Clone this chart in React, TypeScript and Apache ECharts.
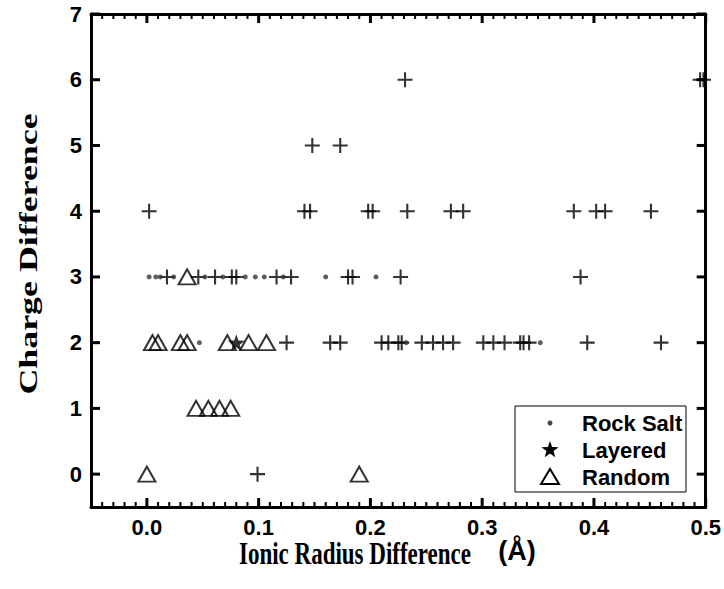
import React, { useEffect, useRef } from "react";
import * as echarts from "echarts";

// ---- data ----
// "+" markers (unlabelled in the legend)
const crossX = [
  0.099,
  0.125, 0.164, 0.173, 0.21, 0.216, 0.225, 0.228, 0.246, 0.256, 0.265, 0.274, 0.301, 0.31, 0.32, 0.334, 0.337, 0.342, 0.394, 0.46,
  0.018, 0.046, 0.061, 0.076, 0.08, 0.116, 0.129, 0.18, 0.184, 0.227, 0.388,
  0.002, 0.141, 0.146, 0.198, 0.202, 0.233, 0.272, 0.283, 0.382, 0.402, 0.41, 0.451,
  0.148, 0.173,
  0.231, 0.495, 0.498,
];
const crossY = [
  0,
  2, 2, 2, 2, 2, 2, 2, 2, 2, 2, 2, 2, 2, 2, 2, 2, 2, 2, 2,
  3, 3, 3, 3, 3, 3, 3, 3, 3, 3, 3,
  4, 4, 4, 4, 4, 4, 4, 4, 4, 4, 4, 4,
  5, 5,
  6, 6, 6,
];
// Rock Salt
const rockSaltX = [0.002, 0.008, 0.012, 0.024, 0.052, 0.068, 0.088, 0.097, 0.105, 0.122, 0.16, 0.205, 0.047, 0.232, 0.352];
const rockSaltY = [3, 3, 3, 3, 3, 3, 3, 3, 3, 3, 3, 3, 2, 2, 2];
// Layered
const layeredX = [0.08];
const layeredY = [2];
// Random
const randomX = [0.0, 0.19, 0.044, 0.055, 0.065, 0.075, 0.005, 0.01, 0.03, 0.036, 0.072, 0.091, 0.107, 0.036];
const randomY = [0, 0, 1, 1, 1, 1, 2, 2, 2, 2, 2, 2, 2, 3];

// ---- axis ticks ----
const X_MIN = -0.05;
const X_MAX = 0.5;
const Y_MIN = -0.5;
const Y_MAX = 7;
const xTickValues = [0, 0.1, 0.2, 0.3, 0.4, 0.5];
const yTickValues = [0, 1, 2, 3, 4, 5, 6, 7];
const xMinorTickValues: number[] = [];
for (let i = -4; i < 50; i++) if (i % 10 !== 0) xMinorTickValues.push(i / 100);

const legendNames = ["Rock Salt", "Layered", "Random"];

const PLUS = "path://M8.6,0H11.4V8.6H20V11.4H11.4V20H8.6V11.4H0V8.6H8.6Z";
const STAR =
  "path://M10,0L12.35,6.76L19.51,6.91L13.8,11.24L15.88,18.09L10,14L4.12,18.09L6.2,11.24L0.49,6.91L7.65,6.76Z";

const zip = (xs: number[], ys: number[]) => xs.map((x, i) => [x, ys[i]]);

export default function App() {
  const ref = useRef<HTMLDivElement>(null);
  useEffect(() => {
    if (!ref.current) return;
    const chart = echarts.init(ref.current, null, { renderer: "svg" });
    const sans = '"Liberation Sans", Arial, sans-serif';
    const serif = '"Liberation Serif", "Times New Roman", serif';
    const line = { show: true, onZero: false, lineStyle: { color: "#000", width: 3 } };
    const baseX = { type: "value" as const, min: X_MIN, max: X_MAX, splitLine: { show: false }, axisTick: { show: false } };
    const baseY = { type: "value" as const, min: Y_MIN, max: Y_MAX, splitLine: { show: false }, axisTick: { show: false } };
    const tickLabel = {
      color: "#000",
      fontFamily: sans,
      fontWeight: "bold" as const,
      fontSize: 22,
      margin: 9,
    };
    chart.setOption({
      animation: false,
      backgroundColor: "#fff",
      grid: { left: 91, right: 16, top: 14, bottom: 82, containLabel: false },
      xAxis: [
        {
          ...baseX,
          position: "bottom",
          axisLine: line,
          axisLabel: { ...tickLabel, customValues: xTickValues, formatter: (v: number) => v.toFixed(1) },
        },
        { ...baseX, position: "top", axisLine: line, axisLabel: { show: false } },
      ],
      yAxis: [
        {
          ...baseY,
          position: "left",
          axisLine: line,
          axisLabel: { ...tickLabel, customValues: yTickValues, formatter: (v: number) => String(v) },
        },
        { ...baseY, position: "right", axisLine: line, axisLabel: { show: false } },
      ],
      series: [
        {
          name: "Other",
          type: "scatter",
          data: zip(crossX, crossY),
          symbol: PLUS,
          symbolSize: 15,
          itemStyle: { color: "#000" },
          z: 2,
        },
        {
          name: legendNames[0],
          type: "scatter",
          data: zip(rockSaltX, rockSaltY),
          symbol: "circle",
          symbolSize: 5,
          itemStyle: { color: "#333" },
          z: 3,
        },
        {
          name: legendNames[2],
          type: "scatter",
          data: zip(randomX, randomY),
          symbol: "triangle",
          symbolSize: [17, 15],
          itemStyle: { color: "rgba(0,0,0,0)", borderColor: "#000", borderWidth: 2 },
          z: 4,
        },
        {
          name: legendNames[1],
          type: "scatter",
          data: zip(layeredX, layeredY),
          symbol: STAR,
          symbolSize: 17,
          itemStyle: { color: "#000" },
          z: 5,
        },
      ],
    });

    // tick marks placed through the chart's own scales
    const px = (v: number) => chart.convertToPixel({ xAxisIndex: 0 }, v) as number;
    const py = (v: number) => chart.convertToPixel({ yAxisIndex: 0 }, v) as number;
    const left = px(X_MIN);
    const right = px(X_MAX);
    const top = py(Y_MAX);
    const bottom = py(Y_MIN);
    const tick = (x1: number, y1: number, x2: number, y2: number, w: number) => ({
      type: "line",
      silent: true,
      z: 50,
      shape: { x1, y1, x2, y2 },
      style: { stroke: "#000", lineWidth: w },
    });
    const ticks: any[] = [];
    xTickValues.forEach((v) => {
      const x = px(v);
      ticks.push(tick(x, bottom, x, bottom - 9, 3));
      ticks.push(tick(x, top, x, top + 9, 3));
    });
    xMinorTickValues.forEach((v) => {
      const x = px(v);
      ticks.push(tick(x, bottom, x, bottom - 5, 2));
      ticks.push(tick(x, top, x, top + 5, 2));
    });
    yTickValues.forEach((v) => {
      const y = py(v);
      ticks.push(tick(left, y, left + 9, y, 3));
      ticks.push(tick(right, y, right - 9, y, 3));
    });

    chart.setOption({
      graphic: [
        ...ticks,
        {
          type: "text",
          x: 28,
          y: 254,
          rotation: Math.PI / 2,
          scaleX: 1.38,
          style: {
            text: "Charge Difference",
            font: `bold 26px ${serif}`,
            align: "center",
            verticalAlign: "middle",
            fill: "#000",
          },
        },
        {
          type: "text",
          x: 355,
          y: 553,
          scaleY: 1.4,
          style: {
            text: "Ionic Radius Difference",
            font: `bold 23px ${serif}`,
            align: "center",
            verticalAlign: "middle",
            fill: "#000",
          },
        },
        {
          type: "text",
          x: 517,
          y: 551,
          style: {
            text: "(Å)",
            font: `bold 27px ${sans}`,
            align: "center",
            verticalAlign: "middle",
            fill: "#000",
          },
        },
        {
          type: "rect",
          shape: { x: 515, y: 406, width: 171, height: 86 },
          style: { fill: "#fff", stroke: "#000", lineWidth: 1 },
          z: 100,
        },
        {
          type: "circle",
          shape: { cx: 550, cy: 423, r: 2.5 },
          style: { fill: "#444" },
          z: 101,
        },
        {
          type: "polygon",
          shape: {
            points: [
              [550, 441], [552.1, 447], [558.6, 447.2], [553.5, 451.1], [555.3, 457.3],
              [550, 453.6], [544.7, 457.3], [546.5, 451.1], [541.4, 447.2], [547.9, 447],
            ],
          },
          style: { fill: "#000" },
          z: 101,
        },
        {
          type: "polygon",
          shape: { points: [[541, 484], [559, 484], [550, 469]] },
          style: { fill: "none", stroke: "#000", lineWidth: 2 },
          z: 101,
        },
        ...legendNames.map((name, i) => ({
          type: "text",
          x: 582,
          y: 423 + i * 27,
          z: 101,
          style: {
            text: name,
            font: `bold 22px ${sans}`,
            align: "left",
            verticalAlign: "middle",
            fill: "#000",
          },
        })),
      ],
    });
    return () => chart.dispose();
  }, []);
  return (
    <div
      ref={ref}
      style={{ position: "fixed", left: 0, top: 0, width: 724, height: 589, background: "#fff" }}
    />
  );
}
